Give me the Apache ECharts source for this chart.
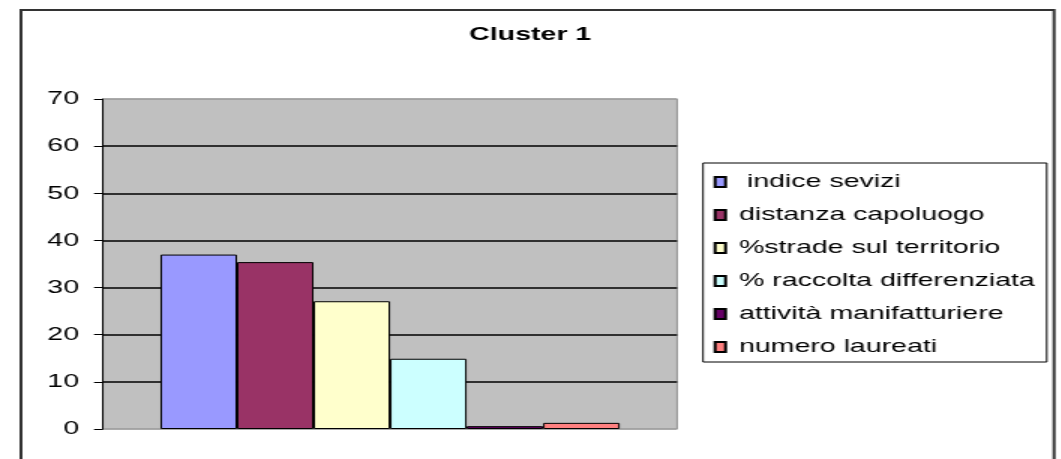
<!DOCTYPE html>
<html>
<head>
<meta charset="utf-8">
<script src="https://cdn.jsdelivr.net/npm/echarts@6/dist/echarts.min.js"></script>
<style>
  html, body { margin: 0; padding: 0; background: #fff; overflow: hidden; }
  /* the source picture is stretched sideways, so draw narrow and widen it */
  #chart { width: 707.33px; height: 459px; transform: scaleX(1.5); transform-origin: 0 0; }
</style>
</head>
<body>
<div id="chart"></div>
<script>
const categories = ['Cluster 1'];
const seriesNames = [
  ' indice sevizi',
  'distanza capoluogo',
  '%strade sul territorio',
  '% raccolta differenziata',
  'attività manifatturiere',
  'numero laureati'
];
const seriesValues = [37, 35.4, 27.1, 14.9, 0.6, 1.3];
const seriesColors = ['#9999ff', '#993366', '#ffffcc', '#ccffff', '#660066', '#ff8080'];
const yTicks = [0, 10, 20, 30, 40, 50, 60, 70];

const font = 'Liberation Sans, Arial, sans-serif';
const chart = echarts.init(document.getElementById('chart'));

// first and last gridlines sit on the grey plot border
const gridColors = yTicks.map((t, i) => (i === 0 || i === yTicks.length - 1 ? '#a0a0a0' : '#000'));

chart.setOption({
  animation: false,
  title: {
    text: categories[0],
    left: 'center',
    top: 20,
    textStyle: { fontFamily: font, fontSize: 19, fontWeight: 'bold', color: '#000' }
  },
  graphic: [{
    type: 'rect',
    shape: { x: 14, y: 10, width: 688.7, height: 470 },
    style: { fill: 'none', stroke: '#333', lineWidth: 2 },
    silent: true
  }],
  legend: {
    orient: 'vertical',
    left: 468.7,
    top: 163,
    padding: [9, 8, 5, 7],
    itemGap: 13,
    itemWidth: 7,
    itemHeight: 10,
    icon: 'rect',
    borderColor: '#000',
    borderWidth: 1,
    textStyle: { fontFamily: font, fontSize: 19, color: '#000', lineHeight: 20, padding: [0, 0, 0, 4] },
    data: seriesNames
  },
  grid: {
    left: 68.7,
    top: 99,
    width: 382.7,
    height: 330,
    show: true,
    backgroundColor: '#c0c0c0',
    borderColor: '#909090',
    borderWidth: 1
  },
  xAxis: {
    type: 'category',
    data: categories,
    axisLine: { show: false },
    axisTick: { show: false },
    axisLabel: { show: false }
  },
  yAxis: {
    type: 'value',
    min: 0,
    max: 70,
    interval: 10,
    axisLine: { show: true, lineStyle: { color: '#000', width: 1 } },
    axisTick: { show: true, inside: false, length: 6, lineStyle: { color: '#000' } },
    axisLabel: { margin: 16, fontFamily: font, fontSize: 19, color: '#000' },
    splitLine: { show: true, lineStyle: { color: gridColors, width: 1.5 } }
  },
  series: seriesNames.map((name, i) => ({
    name,
    type: 'bar',
    barGap: '0%',
    barCategoryGap: '20%',
    data: [seriesValues[i]],
    itemStyle: { color: seriesColors[i], borderColor: '#000', borderWidth: 1 }
  }))
});
</script>
</body>
</html>
